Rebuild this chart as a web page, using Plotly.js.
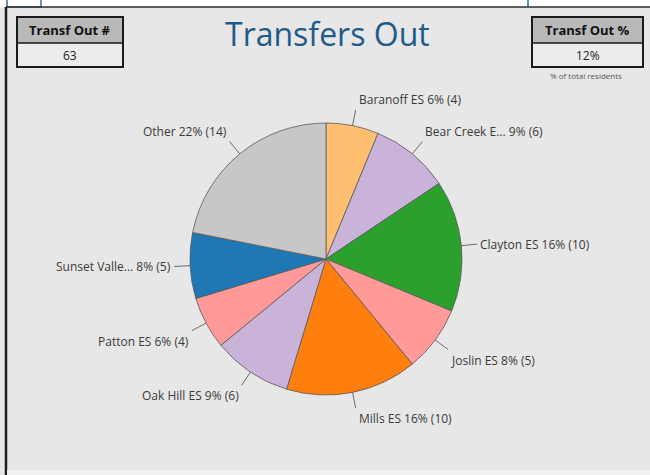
<!DOCTYPE html>
<html><head><meta charset="utf-8">
<script src="https://cdn.plot.ly/plotly-3.0.1.min.js"></script>
<style>html,body{margin:0;padding:0;background:#fff;} #chart{width:650px;height:475px;}</style>
</head><body><div id="chart"></div>
<script>
// ---- data ----
const schools = ["Baranoff ES", "Bear Creek E...", "Clayton ES", "Joslin ES", "Mills ES", "Oak Hill ES", "Patton ES", "Sunset Valle...", "Other"];
const transfers = [4, 6, 10, 5, 10, 6, 4, 5, 14];
const sliceColors = ["#ffbf71", "#c9b3d8", "#2ca02c", "#ff9a98", "#ff7f0e", "#c9b3d8", "#ff9a98", "#1f77b4", "#c7c7c7"];
const chartTitle = "Transfers Out";
const kpiCountLabel = "Transf Out #";
const kpiCountValue = "63";
const kpiPctLabel = "Transf Out %";
const kpiPctValue = "12%";
const kpiPctNote = "% of total residents";

// ---- geometry (pixels) ----
const W = 650, H = 475;
const cx = 326, cy = 259, R = 136, L = 16;
const FONT = "Open Sans, Noto Sans, sans-serif";
const px = x => x / W;
const py = y => 1 - y / H;

const total = transfers.reduce((a, b) => a + b, 0);

const shapes = [];
const annotations = [];

function rect(x0, y0, x1, y1, fill, lineColor, lineWidth) {
  shapes.push({type: "rect", xref: "paper", yref: "paper",
    x0: px(x0), x1: px(x1), y0: py(y1), y1: py(y0),
    fillcolor: fill || "rgba(0,0,0,0)",
    line: {color: lineColor || "rgba(0,0,0,0)", width: lineWidth || 0}});
}
function seg(x0, y0, x1, y1, color, width) {
  shapes.push({type: "line", xref: "paper", yref: "paper",
    x0: px(x0), x1: px(x1), y0: py(y0), y1: py(y1),
    line: {color: color, width: width}});
}
function txt(x, y, text, size, color, opts) {
  annotations.push(Object.assign({xref: "paper", yref: "paper", x: px(x), y: py(y),
    text: text, showarrow: false, xanchor: "center", yanchor: "middle",
    font: {family: FONT, size: size, color: color}}, opts || {}));
}

// frame
rect(0, 0, W, 7, "#ffffff");
rect(7, -2, 41, 7, null, "#3f6f94", 1.5);
seg(528, 0, 528, 7, "#2f6f8f", 1.5);
seg(6, 7, W, 7, "#2b2b2b", 1.5);
seg(6, 7, 6, H, "#1e1e1e", 2.5);
rect(7, 470, W, H, "#f1f1f1");

// KPI boxes
function kpi(x0, x1, label, value) {
  rect(x0, 17, x1, 43, "#b9b9b9");
  rect(x0, 43, x1, 67, "#ececec");
  seg(x0, 43, x1, 43, "#1a1a1a", 1.5);
  rect(x0, 17, x1, 67, null, "#1a1a1a", 2);
  const mid = (x0 + x1) / 2;
  txt(mid, 30, "<b>" + label + "</b>", 13, "#111111");
  txt(mid, 55, value, 12, "#222222");
}
kpi(17, 123, kpiCountLabel, kpiCountValue);
kpi(532, 643, kpiPctLabel, kpiPctValue);
txt(586, 75, kpiPctNote, 8, "#555555");

// title
txt(327, 33, chartTitle, 32, "#1f5b88");

// outside labels + leader lines, from the data's cumulative angles
let cum = 0;
transfers.forEach((v, i) => {
  const a = (cum + v / 2) / total * 2 * Math.PI;
  cum += v;
  const s = Math.sin(a), c = Math.cos(a);
  const ex = cx + R * s, ey = cy - R * c;
  const lx = cx + (R + L) * s, ly = cy - (R + L) * c;
  seg(ex, ey, lx, ly, "#6b6b6b", 1);
  const pct = Math.round(v / total * 100);
  const right = s >= 0;
  txt(lx + (right ? 1 : -1), ly, schools[i] + " " + pct + "% (" + v + ")", 12, "#3a3a3a", {
    xanchor: right ? "left" : "right",
    yanchor: c > 0.35 ? "bottom" : (c < -0.35 ? "top" : "middle")
  });
});

const trace = {
  type: "pie",
  labels: schools,
  values: transfers,
  sort: false,
  direction: "clockwise",
  rotation: 0,
  textinfo: "none",
  hoverinfo: "skip",
  marker: {colors: sliceColors, line: {color: "#5a5a5a", width: 0.8}},
  domain: {x: [px(cx - R), px(cx + R)], y: [(H - cy - R) / H, (H - cy + R) / H]},
  showlegend: false
};

Plotly.newPlot("chart", [trace], {
  width: W, height: H,
  margin: {l: 0, r: 0, t: 0, b: 0},
  paper_bgcolor: "#e7e7e7",
  showlegend: false,
  shapes: shapes,
  annotations: annotations,
  font: {family: FONT}
}, {displayModeBar: false, staticPlot: true});
</script>
</body></html>
